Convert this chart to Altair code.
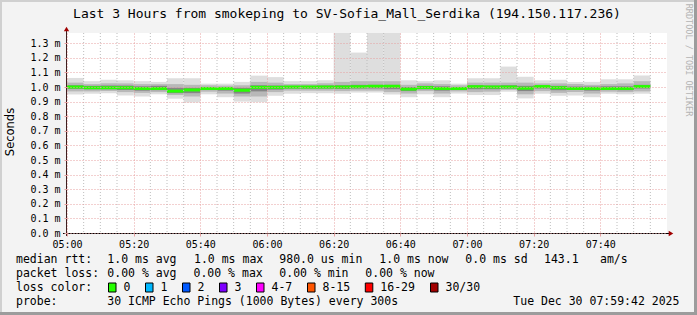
import altair as alt
import pandas as pd

# ---------------- data ----------------
bin_start = ["05:00", "05:05", "05:10", "05:15", "05:20", "05:25", "05:30", "05:35",
             "05:40", "05:45", "05:50", "05:55", "06:00", "06:05", "06:10", "06:15",
             "06:20", "06:25", "06:30", "06:35", "06:40", "06:45", "06:50", "06:55",
             "07:00", "07:05", "07:10", "07:15", "07:20", "07:25", "07:30", "07:35",
             "07:40", "07:45", "07:50"]

median_ms = [1.000, 0.995, 0.995, 0.995, 0.990, 0.990, 0.972, 0.980,
             0.990, 0.990, 0.978, 0.998, 0.998, 1.000, 1.000, 1.000,
             1.000, 1.002, 1.005, 1.005, 0.986, 0.996, 0.990, 0.990,
             1.002, 1.000, 1.000, 0.992, 1.003, 0.995, 0.990, 0.990,
             0.990, 0.990, 1.003]

smoke_max = [1.062, 1.040, 1.050, 1.046, 1.040, 1.035, 1.060, 1.060,
             1.023, 1.023, 1.035, 1.078, 1.068, 1.040, 1.040, 1.046,
             1.500, 1.236, 1.500, 1.500, 1.046, 1.040, 1.046, 1.023,
             1.060, 1.060, 1.140, 1.070, 1.046, 1.050, 1.035, 1.035,
             1.053, 1.053, 1.079]

smoke_p90 = [1.030, 1.020, 1.025, 1.025, 1.020, 1.020, 1.020, 1.015,
             1.012, 1.010, 1.012, 1.035, 1.030, 1.020, 1.020, 1.025,
             1.035, 1.040, 1.040, 1.040, 1.015, 1.025, 1.020, 1.012,
             1.030, 1.030, 1.030, 1.030, 1.025, 1.025, 1.020, 1.015,
             1.020, 1.025, 1.040]

smoke_p75 = [1.012, 1.008, 1.010, 1.010, 1.005, 1.008, 0.995, 0.995,
             1.000, 1.000, 0.995, 1.012, 1.010, 1.008, 1.008, 1.010,
             1.012, 1.015, 1.015, 1.015, 1.000, 1.008, 1.005, 1.000,
             1.012, 1.010, 1.012, 1.008, 1.010, 1.008, 1.003, 1.003,
             1.005, 1.005, 1.015]

smoke_p25 = [0.988, 0.985, 0.985, 0.980, 0.975, 0.978, 0.958, 0.958,
             0.980, 0.975, 0.955, 0.970, 0.982, 0.990, 0.990, 0.990,
             0.988, 0.990, 0.990, 0.985, 0.972, 0.985, 0.975, 0.980,
             0.985, 0.985, 0.990, 0.972, 0.990, 0.978, 0.980, 0.975,
             0.980, 0.978, 0.990]

smoke_p10 = [0.970, 0.970, 0.972, 0.965, 0.960, 0.965, 0.945, 0.935,
             0.968, 0.955, 0.935, 0.935, 0.965, 0.975, 0.975, 0.975,
             0.972, 0.975, 0.975, 0.965, 0.955, 0.972, 0.955, 0.970,
             0.965, 0.968, 0.980, 0.950, 0.972, 0.960, 0.965, 0.955,
             0.968, 0.965, 0.970]

smoke_min = [0.949, 0.954, 0.958, 0.942, 0.935, 0.950, 0.920, 0.894,
             0.950, 0.930, 0.900, 0.896, 0.940, 0.954, 0.958, 0.958,
             0.954, 0.962, 0.962, 0.948, 0.930, 0.950, 0.930, 0.955,
             0.945, 0.945, 0.968, 0.922, 0.954, 0.940, 0.942, 0.930,
             0.954, 0.950, 0.954]

y_ticks = [0.0, 0.1, 0.2, 0.3, 0.4, 0.5, 0.6, 0.7, 0.8, 0.9, 1.0, 1.1, 1.2, 1.3]
x_major = ["05:00", "05:20", "05:40", "06:00", "06:20", "06:40", "07:00", "07:20", "07:40"]
x_minor = ["05:05", "05:10", "05:15", "05:25", "05:30", "05:35", "05:45", "05:50", "05:55",
           "06:05", "06:10", "06:15", "06:25", "06:30", "06:35", "06:45", "06:50", "06:55",
           "07:05", "07:10", "07:15", "07:25", "07:30", "07:35", "07:45", "07:50", "07:55"]

title_text = "Last 3 Hours from smokeping to SV-Sofia_Mall_Serdika (194.150.117.236)"
rtt_items = ["median rtt:", "1.0 ms avg", "1.0 ms max", "980.0 us min", "1.0 ms now",
             "0.0 ms sd", "143.1", "am/s"]
loss_items = ["packet loss:", "0.00 % avg", "0.00 % max", "0.00 % min", "0.00 % now"]
loss_labels = ["0", "1", "2", "3", "4-7", "8-15", "16-29", "30/30"]
loss_colors = ["#26ff00", "#00b8ff", "#0059ff", "#7e00ff", "#ff00ff", "#ff5500", "#ff0000", "#a10000"]
probe_items = ["probe:", "30 ICMP Echo Pings (1000 Bytes) every 300s", "Tue Dec 30 07:59:42 2025"]

# ---------------- layout (pixels) ----------------
W, H = 600, 200
OX, OY = 67, 33
DAY = "2025-12-30T"

def ts(hm):
    return pd.Timestamp(DAY + hm + ":00")

df = pd.DataFrame({
    "start": [ts(t) for t in bin_start],
    "end": [ts(t) + pd.Timedelta(minutes=5) for t in bin_start],
    "median": median_ms,
    "mx": smoke_max, "p90": smoke_p90, "p75": smoke_p75,
    "p25": smoke_p25, "p10": smoke_p10, "mn": smoke_min,
})

xdom = [alt.DateTime(year=2025, month=12, date=30, hours=5, minutes=0),
        alt.DateTime(year=2025, month=12, date=30, hours=8, minutes=0)]
xscale = alt.Scale(domain=xdom)
yscale = alt.Scale(domain=[0, 1.37], nice=False)
major_vals = [alt.DateTime(year=2025, month=12, date=30, hours=int(t[:2]), minutes=int(t[3:]))
              for t in x_major]

MONO = "DejaVu Sans Mono"
GRID_RED = "#e6a0a0"

xaxis = alt.Axis(values=major_vals, format="%H:%M", title=None, grid=True,
                 gridColor=GRID_RED, gridDash=[1, 2], gridWidth=1,
                 domain=False, ticks=True, tickColor=GRID_RED, tickSize=3,
                 labelFont=MONO, labelFontSize=10, labelColor="black",
                 labelPadding=3, labelFlush=False, zindex=1)
yaxis = alt.Axis(values=y_ticks, labelExpr="format(datum.value, '.1f') + ' m'",
                 title=None, grid=True, gridColor=GRID_RED, gridDash=[1, 2],
                 gridWidth=1, domain=False, ticks=True, tickColor=GRID_RED,
                 tickSize=3, labelFont=MONO, labelFontSize=10, labelColor="black",
                 labelPadding=4, zindex=1)

base = alt.Chart(df)

def band(lo, hi, color):
    return base.mark_rect(color=color, clip=True).encode(
        x=alt.X("start:T", scale=xscale, axis=xaxis),
        x2="end:T",
        y=alt.Y(f"{lo}:Q", scale=yscale, axis=yaxis),
        y2=f"{hi}:Q",
    )

outer = band("mn", "mx", "#dedede")
mid = band("p10", "p90", "#b8b8b8")
inner = band("p25", "p75", "#858585")

median = base.mark_rule(color="#26ff00", strokeWidth=3, clip=True).encode(
    x=alt.X("start:T", scale=xscale, axis=xaxis), x2="end:T",
    y=alt.Y("median:Q", scale=yscale, axis=yaxis),
)

minor = alt.Chart(pd.DataFrame({"t": [ts(t) for t in x_minor]})).mark_rule(
    color="#bdbdbd", strokeDash=[1, 2], strokeWidth=1).encode(
    x=alt.X("t:T", scale=xscale, axis=xaxis))

one = pd.DataFrame({"a": [0]})

def txt(text, xa, ya, size=11.5, font=MONO, align="left", angle=0, color="black"):
    return alt.Chart(one).mark_text(
        text=text, align=align, baseline="middle", font=font, fontSize=size,
        angle=angle, color=color).encode(x=alt.value(xa - OX), y=alt.value(ya - OY))

def box(xa0, xa1, ya0, ya1, color, stroke=None, sw=0):
    kw = dict(color=color)
    if stroke:
        kw.update(stroke=stroke, strokeWidth=sw)
    return alt.Chart(one).mark_rect(**kw).encode(
        x=alt.value(xa0 - OX), x2=alt.value(xa1 - OX),
        y=alt.value(ya0 - OY), y2=alt.value(ya1 - OY))

layers = [outer, mid, inner, median, minor]

# axis lines and arrows
layers.append(alt.Chart(one).mark_rule(color="black", strokeWidth=1).encode(
    x=alt.value(63 - OX), x2=alt.value(671 - OX), y=alt.value(H + 0.5), y2=alt.value(H + 0.5)))
layers.append(alt.Chart(one).mark_rule(color="#402020", strokeWidth=1).encode(
    x=alt.value(-0.5), x2=alt.value(-0.5), y=alt.value(236 - OY), y2=alt.value(29 - OY)))
layers.append(alt.Chart(one).mark_point(shape="triangle-up", filled=True, size=28,
                                        color="#a00000", opacity=1).encode(
    x=alt.value(-0.5), y=alt.value(29 - OY)))
layers.append(alt.Chart(one).mark_point(shape="triangle-right", filled=True, size=28,
                                        color="#a00000", opacity=1).encode(
    x=alt.value(671 - OX), y=alt.value(H + 0.5)))

# frame
layers.append(box(0, 697, 0, 2, "#d0d0d0"))
layers.append(box(0, 2, 0, 315, "#d0d0d0"))
layers.append(box(694, 697, 0, 315, "#9c9c9c"))
layers.append(box(0, 697, 312, 315, "#9c9c9c"))

# titles
layers.append(txt(title_text, 347, 14, size=13, align="center"))
layers.append(txt("Seconds", 11, 132, size=11.5, font="DejaVu Sans", align="center", angle=270))
layers.append(txt("RRDTOOL / TOBI OETIKER", 688.5, 60, size=8.5, align="center", angle=90,
                  color="#b4b4b4"))

# legend rows
row_y = [259.5, 273.5, 287.5, 301.5]
rtt_x = [16, 107.3, 194, 279.3, 379.3, 465.3, 544, 600]
for s, xa in zip(rtt_items, rtt_x):
    layers.append(txt(s, xa, row_y[0]))
loss_x = [16, 107.3, 193.5, 279.3, 365.3]
for s, xa in zip(loss_items, loss_x):
    layers.append(txt(s, xa, row_y[1]))
layers.append(txt("loss color:", 16, row_y[2]))
box_x = [108.5, 145.5, 182.5, 219.5, 256.5, 307.5, 365.3, 430.5]
for lab, col, bx in zip(loss_labels, loss_colors, box_x):
    layers.append(box(bx, bx + 7.5, row_y[2] - 4.5, row_y[2] + 4.5, col, stroke="black", sw=1))
    layers.append(txt(lab, bx + 15, row_y[2]))
probe_x = [16, 107.3, 513.3]
for s, xa in zip(probe_items, probe_x):
    layers.append(txt(s, xa, row_y[3]))

chart = alt.layer(*layers).properties(
    width=W, height=H,
    padding={"left": OX, "top": OY, "right": 697 - OX - W, "bottom": 315 - OY - H},
    autosize=alt.AutoSizeParams(type="none"),
    background="#f3f3f3",
).configure_view(strokeWidth=0, fill="white")

chart.save("out.html", embed_options={"renderer": "svg", "actions": False})
